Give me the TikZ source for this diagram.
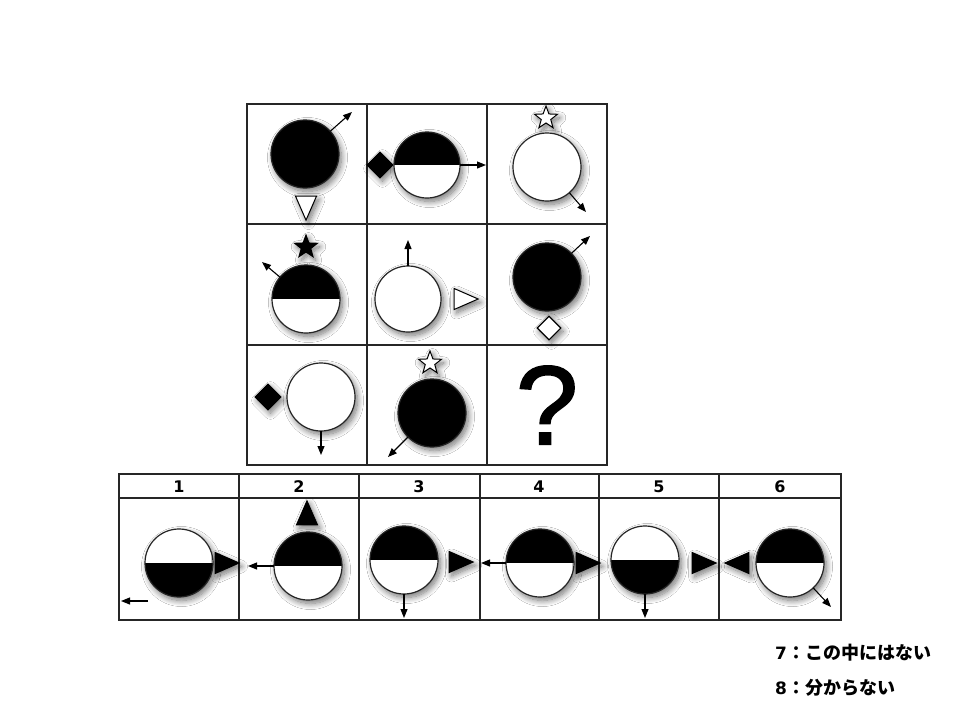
\documentclass[tikz,border=0pt]{standalone}
\usepackage{fontspec}
\setmainfont{Liberation Sans}
\newfontfamily\qfont{Liberation Sans}[FakeBold=1.6]
\newfontfamily\jpfont{Noto Sans CJK JP}
\newfontfamily\numfont{DejaVu Sans}
\usetikzlibrary{shapes.geometric,arrows.meta,shadows.blur}
\begin{document}
\begin{tikzpicture}[x=1pt,y=-1pt,
  shd/.style={blur shadow={shadow xshift=2.5pt,shadow yshift=-3.5pt,shadow blur radius=6pt,shadow blur steps=12,shadow opacity=55}},
  ball/.style={circle,draw=black!85,line width=1.2pt,minimum size=68pt,inner sep=0pt,outer sep=0pt,shd},
  blackball/.style={ball,fill=black},
  whiteball/.style={ball,fill=white},
  tophalf/.style={ball,fill=white,path picture={\fill[black] (path picture bounding box.west) rectangle (path picture bounding box.north east);}},
  bottomhalf/.style={ball,fill=white,path picture={\fill[black] (path picture bounding box.south west) rectangle (path picture bounding box.east);}},
  arr/.style={line width=1.1pt,-{Triangle[length=9pt,width=7pt]}},
  tri/.style={isosceles triangle,isosceles triangle stretches,minimum width=21pt,minimum height=24pt,inner sep=0pt,outer sep=0pt,draw,line width=1pt,shd},
  dia/.style={diamond,minimum width=26pt,minimum height=26pt,inner sep=0pt,draw,line width=1.1pt,shd},
  starshape/.style={star,star points=5,star point ratio=2.4,minimum size=24pt,inner sep=0pt,draw,line width=1pt,shd},
  gridline/.style={draw=black!85,line width=1.5pt},
  hdr/.style={font=\numfont\bfseries\fontsize{16}{16}\selectfont}
]
\useasboundingbox (0,0) rectangle (960,720);
\fill[white] (0,0) rectangle (960,720);

% ---------- matrix grid ----------
\draw[gridline] (247,104) rectangle (607,465);
\draw[gridline] (367,104) -- (367,465) (487,104) -- (487,465)
                (247,224) -- (607,224) (247,345) -- (607,345);

% Row 1
\node[blackball] (c11) at (305,154) {};
\coordinate (t11) at (352,112);
\draw[arr] (c11.42) -- (t11);
\node[tri,fill=white,shape border rotate=270] (tr11) at (306,203) {};

\node[dia,fill=black] (d12) at (380,165) {};
\node[tophalf,minimum size=66pt] (c12) at (427,165) {};
\coordinate (t12) at (486,165);
\draw[arr] (c12.east) -- (t12);

\node[starshape,fill=white] (s13) at (546,118) {};
\node[whiteball] (c13) at (547,167) {};
\coordinate (t13) at (586,212);
\draw[arr] (c13.-49) -- (t13);

% Row 2
\node[starshape,fill=black] (s21) at (306,247) {};
\node[tophalf] (c21) at (306,299) {};
\coordinate (t21) at (262,262);
\draw[arr] (c21.140) -- (t21);

\node[whiteball,minimum size=66pt] (c22) at (408,299) {};
\coordinate (t22) at (408,240);
\draw[arr] (c22.north) -- (t22);
\node[tri,fill=white,shape border rotate=0] (tr22) at (461,299) {};

\node[blackball] (c23) at (547,277) {};
\coordinate (t23) at (590,236);
\draw[arr] (c23.44) -- (t23);
\node[dia,fill=white,minimum width=24pt,minimum height=24pt] (d23) at (549,328) {};

% Row 3
\node[dia,fill=black] (d31) at (268,397) {};
\node[whiteball] (c31) at (321,397) {};
\coordinate (t31) at (321,455);
\draw[arr] (c31.south) -- (t31);

\node[starshape,fill=white] (s32) at (430,363) {};
\node[blackball] (c32) at (432,413) {};
\coordinate (t32) at (388,457);
\draw[arr] (c32.225) -- (t32);

\node (q33) at (547,405) {\qfont\fontsize{112}{112}\selectfont ?};

% ---------- answers ----------
\draw[gridline] (119,474) rectangle (841,620);
\draw[gridline] (119,498) -- (841,498);
\foreach \xx in {239,359,480,599,719} \draw[gridline] (\xx,474) -- (\xx,620);

\node[hdr] (h1) at (179,487) {1};
\node[hdr] (h2) at (299,487) {2};
\node[hdr] (h3) at (419,487) {3};
\node[hdr] (h4) at (539,487) {4};
\node[hdr] (h5) at (659,487) {5};
\node[hdr] (h6) at (780,487) {6};

% answer 1
\node[bottomhalf] (a1) at (179,563) {};
\node[tri,fill=black,shape border rotate=0] (ta1) at (222,563) {};
\coordinate (a1s) at (148,601);
\coordinate (a1e) at (121,601);
\draw[arr] (a1s) -- (a1e);

% answer 2
\node[tri,fill=black,shape border rotate=90] (ta2) at (307,518) {};
\node[tophalf] (a2) at (308,566) {};
\coordinate (e2) at (248,566);
\draw[arr] (a2.west) -- (e2);

% answer 3
\node[tophalf] (a3) at (404,560) {};
\node[tri,fill=black,shape border rotate=0] (ta3) at (456,562) {};
\coordinate (e3) at (404,618);
\draw[arr] (a3.south) -- (e3);

% answer 4
\node[tophalf] (a4) at (540,563) {};
\coordinate (e4) at (481,563);
\draw[arr] (a4.west) -- (e4);
\node[tri,fill=black,shape border rotate=0] (ta4) at (583,563) {};

% answer 5
\node[bottomhalf] (a5) at (645,560) {};
\coordinate (e5) at (645,618);
\draw[arr] (a5.south) -- (e5);
\node[tri,fill=black,shape border rotate=0] (ta5) at (699,563) {};

% answer 6
\node[tri,fill=black,shape border rotate=180] (ta6) at (742,563) {};
\node[tophalf] (a6) at (790,563) {};
\coordinate (e6) at (831,607);
\draw[arr] (a6.-47) -- (e6);

% ---------- extra options ----------
\node[anchor=west,inner sep=0pt] (o7) at (775,653)
  {{\numfont\bfseries\fontsize{17}{17}\selectfont 7}{\jpfont\bfseries\fontsize{18}{18}\selectfont ：この中にはない}};
\node[anchor=west,inner sep=0pt] (o8) at (775,688)
  {{\numfont\bfseries\fontsize{17}{17}\selectfont 8}{\jpfont\bfseries\fontsize{18}{18}\selectfont ：分からない}};
\end{tikzpicture}
\end{document}
